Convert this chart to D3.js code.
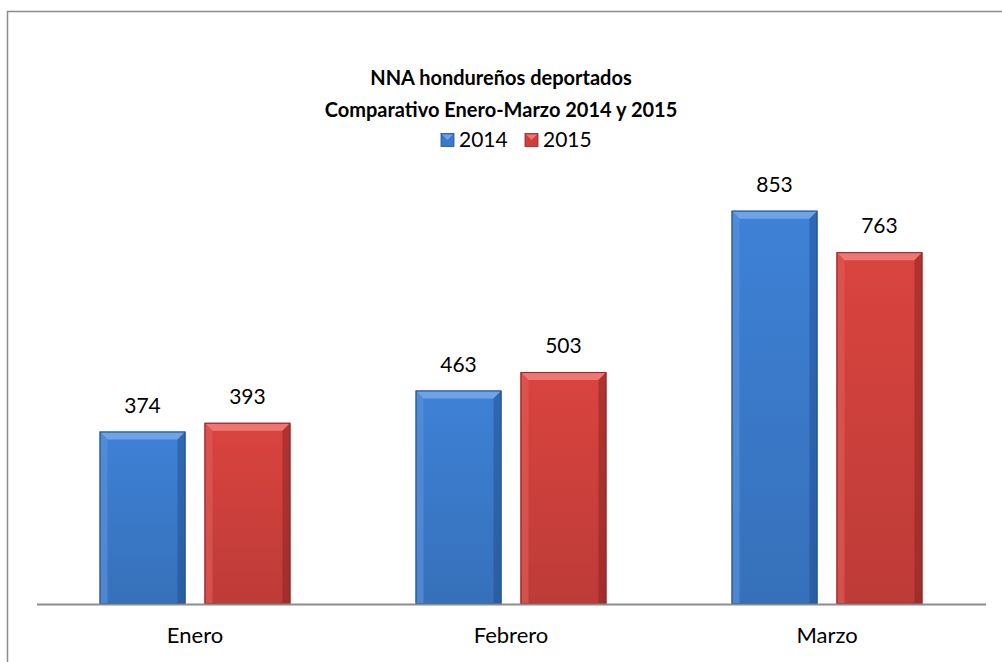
<!DOCTYPE html>
<html>
<head>
<meta charset="utf-8">
<script src="https://cdn.jsdelivr.net/npm/d3@7"></script>
<style>
  body { margin: 0; background: #fff; overflow: hidden; }
  svg { display: block; font-family: Lato, "Open Sans", sans-serif; }
</style>
</head>
<body>
<svg id="chart" width="1002" height="662"></svg>
<script>
// chart data
const categories = ['Enero', 'Febrero', 'Marzo'];
const seriesNames = ['2014', '2015'];
const values2014 = [374, 463, 853];
const values2015 = [393, 503, 763];

const titleLines = ['NNA hondureños deportados', 'Comparativo Enero-Marzo 2014 y 2015'];

const colors = {
    '2014': { main: '#3b7acb', light: '#6ea3e6', side: '#5890d9', dark: '#1d4a86', edge: '#244f8c' },
    '2015': { main: '#cf403c', light: '#ee7773', side: '#dd5a56', dark: '#7f201e', edge: '#8b2624' }
};

const svg = d3.select('#chart');

// outer frame (runs off the right / bottom of the window)
svg.append('rect')
    .attr('x', 7.5).attr('y', 11.5)
    .attr('width', 1010).attr('height', 670)
    .attr('fill', 'none')
    .attr('stroke', '#8c8c8c')
    .attr('stroke-width', 1.5);

const data = categories.map((c, i) => ({
    cat: c,
    vals: [
        { key: '2014', v: values2014[i] },
        { key: '2015', v: values2015[i] }
    ]
}));

const x0 = d3.scaleBand()
    .domain(categories)
    .range([37, 985])
    .paddingInner(0.396)
    .paddingOuter(0.198);

const x1 = d3.scaleBand()
    .domain(seriesNames)
    .range([0, x0.bandwidth()])
    .paddingInner(0.181);

const y = d3.scaleLinear()
    .domain([0, 900])
    .range([604, 189]);

// gradients
const defs = svg.append('defs');
seriesNames.forEach(k => {
    const g = defs.append('linearGradient')
        .attr('id', 'grad' + k)
        .attr('x1', 0).attr('x2', 0).attr('y1', 0).attr('y2', 1);
    g.append('stop').attr('offset', '0%').attr('stop-color', d3.color(colors[k].main).brighter(0.15));
    g.append('stop').attr('offset', '100%').attr('stop-color', d3.color(colors[k].main).darker(0.25));
});

// title
svg.append('g')
    .selectAll('text')
    .data(titleLines)
    .join('text')
    .attr('x', 501)
    .attr('y', (d, i) => 85 + i * 32)
    .attr('text-anchor', 'middle')
    .attr('font-weight', 'bold')
    .attr('font-size', 20)
    .attr('fill', '#000')
    .text(d => d);

// legend
const legend = svg.append('g');
const legendX = [441, 525];
seriesNames.forEach((k, i) => {
    legend.append('rect')
        .attr('x', legendX[i]).attr('y', 133.5)
        .attr('width', 13).attr('height', 13)
        .attr('fill', colors[k].main)
        .attr('stroke', colors[k].edge)
        .attr('stroke-width', 0.8);
    legend.append('path')
        .attr('d', `M${legendX[i] + 1},134.5 L${legendX[i] + 12},134.5 L${legendX[i] + 6.5},140 Z`)
        .attr('fill', colors[k].light);
    legend.append('text')
        .attr('x', legendX[i] + 18)
        .attr('y', 147)
        .attr('font-size', 21)
        .attr('fill', '#000')
        .text(k);
});

// bars
const bev = 8;
const groups = svg.append('g')
    .selectAll('g')
    .data(data)
    .join('g')
    .attr('transform', d => `translate(${x0(d.cat)},0)`);

groups.each(function (d) {
    const g = d3.select(this);
    d.vals.forEach(b => {
        const c = colors[b.key];
        const bx = x1(b.key);
        const bw = x1.bandwidth();
        const top = y(b.v);
        const bot = y(0);
        const bar = g.append('g');
        bar.append('rect')
            .attr('x', bx).attr('y', top)
            .attr('width', bw).attr('height', bot - top)
            .attr('fill', `url(#grad${b.key})`);
        // top bevel
        bar.append('path')
            .attr('d', `M${bx},${top} L${bx + bw},${top} L${bx + bw - bev},${top + bev} L${bx + bev},${top + bev} Z`)
            .attr('fill', c.light);
        // left bevel
        bar.append('path')
            .attr('d', `M${bx},${top} L${bx + bev},${top + bev} L${bx + bev},${bot} L${bx},${bot} Z`)
            .attr('fill', c.side)
            .attr('opacity', 0.7);
        // right bevel
        bar.append('path')
            .attr('d', `M${bx + bw},${top} L${bx + bw - bev},${top + bev} L${bx + bw - bev},${bot} L${bx + bw},${bot} Z`)
            .attr('fill', c.dark)
            .attr('opacity', 0.45);
        // outline
        bar.append('rect')
            .attr('x', bx + 0.5).attr('y', top + 0.5)
            .attr('width', bw - 1).attr('height', bot - top - 1)
            .attr('fill', 'none')
            .attr('stroke', c.edge)
            .attr('stroke-width', 1);
        // value label
        g.append('text')
            .attr('x', bx + bw / 2)
            .attr('y', top - 19)
            .attr('text-anchor', 'middle')
            .attr('font-size', 21)
            .attr('fill', '#000')
            .text(b.v);
    });
});

// category axis
const axis = svg.append('g')
    .attr('transform', `translate(0,${y(0)})`)
    .call(d3.axisBottom(x0).tickSize(0).tickPadding(23));
axis.select('.domain')
    .attr('d', `M37,0.5H986`)
    .attr('stroke', '#8c8c8c')
    .attr('stroke-width', 2);
axis.selectAll('text')
    .attr('font-size', 22)
    .attr('font-family', 'Lato, "Open Sans", sans-serif')
    .attr('fill', '#000');
</script>
</body>
</html>
